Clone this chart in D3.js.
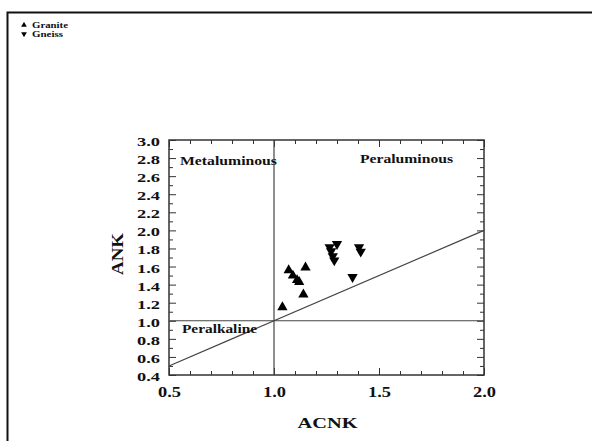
<!DOCTYPE html>
<html>
<head>
<meta charset="utf-8">
<script src="https://cdn.jsdelivr.net/npm/d3@7"></script>
<style>
  body { margin: 0; background: #fff; }
  text { font-family: "Liberation Serif", "Times New Roman", serif; font-weight: bold; fill: #111; }
</style>
</head>
<body>
<div id="chart"></div>
<script>
// donnees
const granite = [
  [1.04, 1.15], [1.07, 1.56], [1.09, 1.50], [1.11, 1.45],
  [1.12, 1.43], [1.15, 1.59], [1.14, 1.29]
];
const gneiss = [
  [1.265, 1.815], [1.30, 1.85], [1.272, 1.77], [1.28, 1.715],
  [1.287, 1.668], [1.405, 1.815], [1.413, 1.765], [1.374, 1.485]
];
const xTickLabels = [0.5, 1.0, 1.5, 2.0];
const yTickLabels = [0.4, 0.6, 0.8, 1.0, 1.2, 1.4, 1.6, 1.8, 2.0, 2.2, 2.4, 2.6, 2.8, 3.0];
const legendItems = ["Granite", "Gneiss"];

const svg = d3.select("#chart").append("svg")
  .attr("width", 592)
  .attr("height", 441);

// cadre exterieur
svg.append("path")
  .attr("d", "M7.5,441 V12.5 H592")
  .attr("fill", "none")
  .attr("stroke", "#111")
  .attr("stroke-width", 2);

const mLeft = 169, mRight = 484, mTop = 140, mBottom = 375;
const x = d3.scaleLinear().domain([0.5, 2.0]).range([mLeft, mRight]);
const y = d3.scaleLinear().domain([0.4, 3.0]).range([mBottom, mTop]);

const axisColor = "#333";

// axes (ticks vers l'interieur)
const xMinor = d3.range(5, 21).map(d => d / 10);
const yMinor = d3.range(4, 31).map(d => d / 10);

function isMajorX(d) { return Math.abs(d * 2 - Math.round(d * 2)) < 1e-6; }

svg.append("g").attr("transform", `translate(0,${mBottom})`)
  .call(d3.axisBottom(x).tickValues(xMinor).tickSize(0).tickFormat(""))
  .call(g => g.select(".domain").remove())
  .selectAll(".tick").append("line")
  .attr("y2", d => isMajorX(d) ? -7 : -4)
  .attr("stroke", axisColor);

svg.append("g").attr("transform", `translate(0,${mTop})`)
  .call(d3.axisTop(x).tickValues(xMinor).tickSize(0).tickFormat(""))
  .call(g => g.select(".domain").remove())
  .selectAll(".tick").append("line")
  .attr("y2", d => isMajorX(d) ? 7 : 4)
  .attr("stroke", axisColor);

svg.append("g").attr("transform", `translate(${mLeft},0)`)
  .call(d3.axisLeft(y).tickValues(yMinor).tickSize(0).tickFormat(""))
  .call(g => g.select(".domain").remove())
  .selectAll(".tick").append("line")
  .attr("x2", d => Math.round(d * 10) % 2 === 0 ? 7 : 4)
  .attr("stroke", axisColor);

svg.append("g").attr("transform", `translate(${mRight},0)`)
  .call(d3.axisRight(y).tickValues(yMinor).tickSize(0).tickFormat(""))
  .call(g => g.select(".domain").remove())
  .selectAll(".tick").append("line")
  .attr("x2", d => Math.round(d * 10) % 2 === 0 ? -7 : -4)
  .attr("stroke", axisColor);

// etiquettes (texte etire comme dans l'image)
svg.append("g").attr("transform", `translate(0,${mBottom})`)
  .call(d3.axisBottom(x).tickValues(xTickLabels).tickSize(0).tickPadding(12).tickFormat(d3.format(".1f")))
  .call(g => g.select(".domain").remove())
  .selectAll("text")
  .style("font-size", "14px")
  .style("font-family", "Liberation Serif")
  .style("font-weight", "bold")
  .attr("fill", "#111")
  .attr("textLength", 23)
  .attr("lengthAdjust", "spacingAndGlyphs");

svg.append("g").attr("transform", `translate(${mLeft},0)`)
  .call(d3.axisLeft(y).tickValues(yTickLabels).tickSize(0).tickPadding(9).tickFormat(d3.format(".1f")))
  .call(g => g.select(".domain").remove())
  .selectAll("text")
  .attr("dy", "0.42em")
  .style("font-size", "13px")
  .style("font-family", "Liberation Serif")
  .style("font-weight", "bold")
  .attr("fill", "#111")
  .attr("textLength", 23)
  .attr("lengthAdjust", "spacingAndGlyphs");

// cadre du graphique
svg.append("rect")
  .attr("x", mLeft).attr("y", mTop)
  .attr("width", mRight - mLeft).attr("height", mBottom - mTop)
  .attr("fill", "none")
  .attr("stroke", axisColor)
  .attr("stroke-width", 1.5);

// lignes de separation
const lineColor = "#444";
svg.append("line")
  .attr("x1", x(1)).attr("x2", x(1))
  .attr("y1", y(0.4)).attr("y2", y(3.0))
  .attr("stroke", lineColor).attr("stroke-width", 1.2);
svg.append("line")
  .attr("x1", x(0.5)).attr("x2", x(2.0))
  .attr("y1", y(1)).attr("y2", y(1))
  .attr("stroke", lineColor).attr("stroke-width", 1.2);
svg.append("line")
  .attr("x1", x(0.5)).attr("x2", x(2.0))
  .attr("y1", y(0.5)).attr("y2", y(2.0))
  .attr("stroke", lineColor).attr("stroke-width", 1.2);

// noms des domaines
function label(txt, px, py, size, len, anchor) {
  return svg.append("text")
    .attr("x", px).attr("y", py)
    .attr("text-anchor", anchor || "start")
    .style("font-size", size + "px")
    .attr("textLength", len)
    .attr("lengthAdjust", "spacingAndGlyphs")
    .text(txt);
}
label("Metaluminous", 180, 165, 12, 97);
label("Peraluminous", 360, 163, 12, 93);
label("Peralkaline", 182, 333, 12, 75);

label("ACNK", (mLeft + mRight) / 2 + 1, 428, 15, 60, "middle");

label("ANK", 0, 0, 16, 42, "middle")
  .attr("x", null).attr("y", null)
  .attr("transform", `translate(123,254) rotate(-90)`);

// points
const tri = d3.symbol().type(d3.symbolTriangle).size(46);
svg.append("g").selectAll("path")
  .data(granite).join("path")
  .attr("d", tri)
  .attr("transform", d => `translate(${x(d[0])},${y(d[1])})`)
  .attr("fill", "#000");

svg.append("g").selectAll("path")
  .data(gneiss).join("path")
  .attr("d", tri)
  .attr("transform", d => `translate(${x(d[0])},${y(d[1])}) rotate(180)`)
  .attr("fill", "#000");

// legende
const legend = svg.append("g").attr("transform", "translate(24,25)");
legendItems.forEach((name, i) => {
  legend.append("path")
    .attr("d", d3.symbol().type(d3.symbolTriangle).size(14))
    .attr("transform", `translate(0,${i * 9}) rotate(${i === 0 ? 0 : 180})`)
    .attr("fill", "#000");
  legend.append("text")
    .attr("x", 8).attr("y", i * 9 + 3)
    .style("font-size", "8px")
    .attr("textLength", name === "Granite" ? 36 : 31)
    .attr("lengthAdjust", "spacingAndGlyphs")
    .text(name);
});
</script>
</body>
</html>
